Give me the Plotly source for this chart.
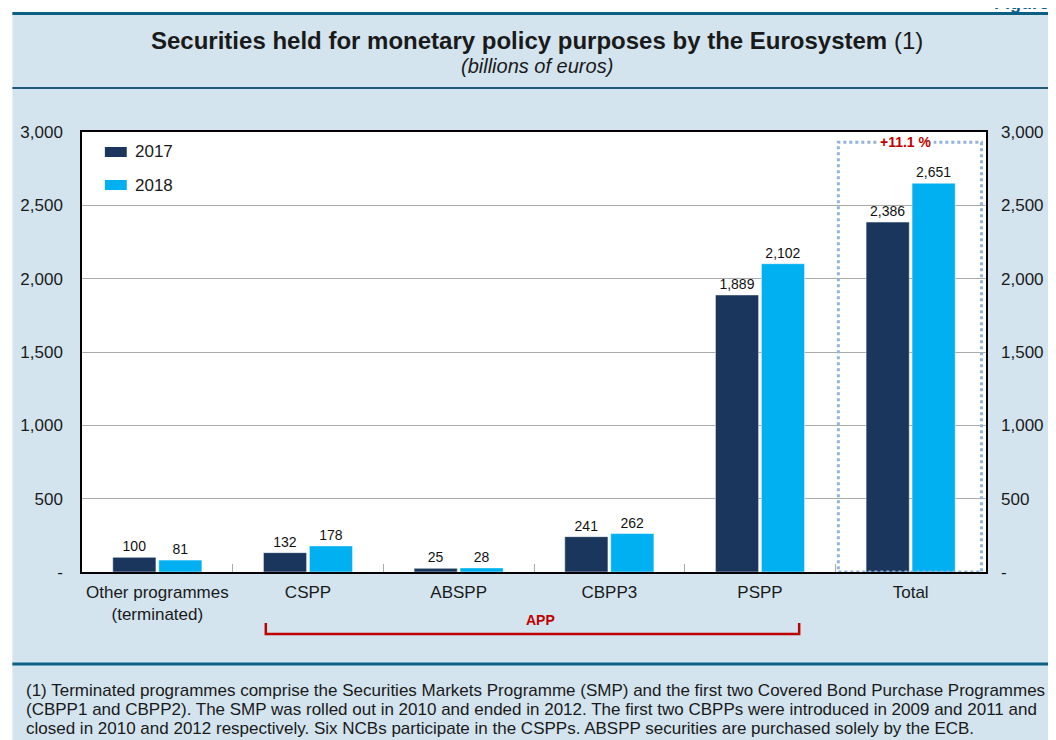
import plotly.graph_objects as go

categories = ["Other programmes<br>(terminated)", "CSPP", "ABSPP", "CBPP3", "PSPP", "Total"]
values_2017 = [100, 132, 25, 241, 1889, 2386]
values_2018 = [81, 178, 28, 262, 2102, 2651]
series_names = ["2017", "2018"]
y_ticks = [0, 500, 1000, 1500, 2000, 2500, 3000]
y_ticktext = ["-", "500", "1,000", "1,500", "2,000", "2,500", "3,000"]
footnote_lines = [
    "(1) Terminated programmes comprise the Securities Markets Programme (SMP) and the first two Covered Bond Purchase Programmes",
    "(CBPP1 and CBPP2). The SMP was rolled out in 2010 and ended in 2012. The first two CBPPs were introduced in 2009 and 2011 and",
    "closed in 2010 and 2012 respectively. Six NCBs participate in the CSPPs. ABSPP securities are purchased solely by the ECB.",
]

# page body has an 8px margin; work in reference-pixel coords and shift
O = 8
W, H = 1056 - O, 740 - O
L, T = 80 - O, 132 - O
R = W - (989 - O)
B = H - (572 - O)
PW, PH = W - L - R, H - T - B


def px(x):
    return (x - O - L) / PW


def py(y):
    return (H - B - (y - O)) / PH


C17 = "#1a365d"
C18 = "#00b0f0"
BG = "#d3e4ee"
RULE = "#0b6083"
RED = "#c00000"
FONT = "Liberation Sans, Arial, sans-serif"

fig = go.Figure()
for name, vals, col in [(series_names[0], values_2017, C17), (series_names[1], values_2018, C18)]:
    fig.add_trace(go.Bar(
        x=categories, y=vals, name=name, marker=dict(color=col, line=dict(color="white", width=0.5)),
        text=[f"{v:,}" for v in vals], textposition="outside", cliponaxis=False,
        textfont=dict(size=14, color="#111"), showlegend=False,
    ))
fig.add_trace(go.Scatter(x=[categories[0]], y=[0], yaxis="y2", mode="markers",
                         marker=dict(opacity=0), showlegend=False, hoverinfo="skip"))

shapes = [
    dict(type="rect", xref="paper", yref="paper", x0=px(0), x1=px(10), y0=py(760), y1=py(0),
         fillcolor="white", line=dict(width=0), layer="below"),
    dict(type="rect", xref="paper", yref="paper", x0=px(0), x1=px(1060), y0=py(13), y1=py(0),
         fillcolor="white", line=dict(width=0), layer="below"),
    dict(type="line", xref="paper", yref="paper", x0=px(10), x1=px(1060), y0=py(13.5), y1=py(13.5),
         line=dict(color=RULE, width=3)),
    dict(type="line", xref="paper", yref="paper", x0=px(10), x1=px(1060), y0=py(88), y1=py(88),
         line=dict(color="#1d5a7a", width=2)),
    dict(type="line", xref="paper", yref="paper", x0=px(10), x1=px(1060), y0=py(664), y1=py(664),
         line=dict(color=RULE, width=3)),
]

# custom legend (wide swatches)
legend_rows = [(152, series_names[0], C17), (185, series_names[1], C18)]
annotations = []
for yy, name, col in legend_rows:
    shapes.append(dict(type="rect", xref="paper", yref="paper", x0=px(103), x1=px(125),
                       y0=py(yy + 5), y1=py(yy - 5), fillcolor=col, line=dict(width=0)))
    annotations.append(dict(text=name, xref="paper", yref="paper", x=px(131), y=py(yy), showarrow=False,
                            font=dict(size=17, color="#1a1a1a"), xanchor="left", yanchor="middle"))

# dotted box around Total
total_idx = len(categories) - 1
shapes.append(dict(type="rect", xref="x", yref="y", x0=total_idx - 0.48, x1=total_idx + 0.47,
                   y0=0, y1=2930, line=dict(color="#92b4dc", width=3, dash="dot")))

# APP bracket (CSPP..PSPP)
shapes.append(dict(type="path", xref="x", yref="paper",
                   path=f"M {1 - 0.28},{py(623)} L {1 - 0.28},{py(634)} L {4 + 0.26},{py(634)} L {4 + 0.26},{py(623)}",
                   line=dict(color=RED, width=2.5)))

pct = (values_2018[-1] / values_2017[-1] - 1) * 100

annotations += [
    dict(text="<b>Securities held for monetary policy purposes by the Eurosystem</b> (1)",
         xref="paper", yref="paper", x=px(538), y=py(40), showarrow=False,
         font=dict(size=24, color="#1a1a1a"), xanchor="center", yanchor="middle"),
    dict(text="<i>(billions of euros)</i>", xref="paper", yref="paper", x=px(538), y=py(66),
         showarrow=False, font=dict(size=20, color="#1a1a1a"), xanchor="center", yanchor="middle"),
    dict(text="<b>Figure</b>", xref="paper", yref="paper", x=px(1054), y=py(3), showarrow=False,
         font=dict(size=18, color=RULE), xanchor="right", yanchor="middle"),
    dict(text=f"<b>+{pct:.1f} %</b>", xref="x", yref="y", x=total_idx - 0.03, y=2930, showarrow=False,
         font=dict(size=14, color=RED), bgcolor="white", xanchor="center", yanchor="middle"),
    dict(text="<b>APP</b>", xref="x", yref="paper", x=2.54, y=py(620), showarrow=False,
         font=dict(size=14, color=RED), xanchor="center", yanchor="middle"),
]
for i, line in enumerate(footnote_lines):
    annotations.append(dict(text=line, xref="paper", yref="paper", x=px(22), y=py(690 + 19 * i),
                            showarrow=False, font=dict(size=17, color="#1a1a1a"),
                            xanchor="left", yanchor="middle"))

fig.update_layout(
    width=W, height=H,
    margin=dict(l=L, r=R, t=T, b=B, pad=0),
    paper_bgcolor=BG, plot_bgcolor="white",
    font=dict(family=FONT, size=17, color="#1a1a1a"),
    barmode="group", bargap=0.39, bargroupgap=0.06,
    showlegend=False,
    xaxis=dict(showline=True, linecolor="black", linewidth=1.5, mirror=True,
               ticks="inside", tickson="boundaries", ticklen=8, tickcolor="#aaaaaa",
               tickfont=dict(size=17), tickangle=0, showgrid=False, ticklabelstandoff=4),
    yaxis=dict(range=[0, 3000], tickvals=y_ticks, ticktext=y_ticktext, showline=True,
               linecolor="black", linewidth=1.5, mirror=True, gridcolor="#aaaaaa", gridwidth=1,
               ticks="", tickfont=dict(size=17), zeroline=False, ticklabelstandoff=14),
    yaxis2=dict(range=[0, 3000], tickvals=y_ticks, ticktext=y_ticktext, overlaying="y", side="right",
                showgrid=False, zeroline=False, ticks="", tickfont=dict(size=17), ticklabelstandoff=14),
    shapes=shapes, annotations=annotations,
)

fig.write_html("out.html")
